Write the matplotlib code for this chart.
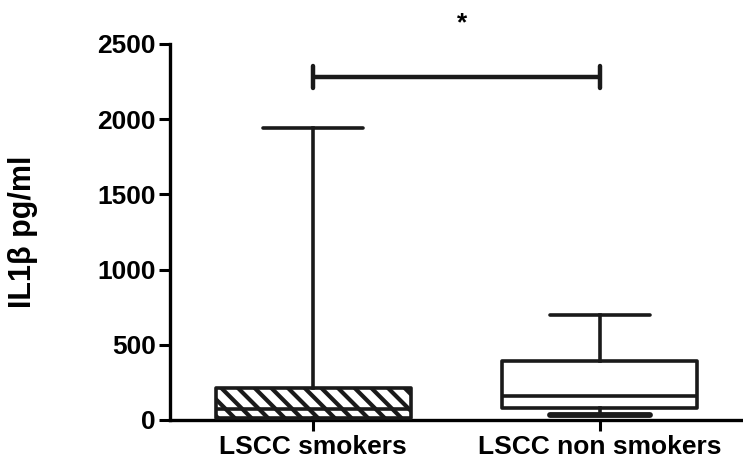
import matplotlib
matplotlib.use("Agg")
import matplotlib.pyplot as plt

categories = ["LSCC smokers", "LSCC non smokers"]
whislo = [0, 33]
q1 = [10, 82]
med = [73, 160]
q3 = [215, 392]
whishi = [1940, 695]
yticks = [0, 500, 1000, 1500, 2000, 2500]
sig_y = 2280
sig_label = "*"
ylabel = "IL1β pg/ml"

plt.rcParams['font.family'] = ['Liberation Sans', 'DejaVu Sans']
plt.rcParams['font.weight'] = 'bold'
plt.rcParams['hatch.linewidth'] = 3.0

fig = plt.figure(figsize=(7.43, 4.63), dpi=100)
ax = fig.add_axes([0.2288, 0.0929, 0.7712, 0.8121])

stats = []
for i, c in enumerate(categories):
    stats.append(dict(label=c, whislo=whislo[i], q1=q1[i], med=med[i],
                      q3=q3[i], whishi=whishi[i], fliers=[]))
positions = list(range(len(categories)))
lw = 2.6
res = ax.bxp(stats, positions=positions, widths=0.68, capwidths=0.35,
             patch_artist=True, showfliers=False,
             boxprops=dict(facecolor='white', edgecolor='#1a1a1a', linewidth=lw, joinstyle='round'),
             medianprops=dict(color='#1a1a1a', linewidth=lw),
             whiskerprops=dict(color='#1a1a1a', linewidth=lw),
             capprops=dict(color='#1a1a1a', linewidth=lw, solid_capstyle='round'))
res['boxes'][0].set_hatch('\\\\')
for b in res['boxes']:
    b.set_zorder(3)
for k in ('medians', 'whiskers', 'caps'):
    for l in res[k]:
        l.set_zorder(4)
res['caps'][2].set_linewidth(4.2)

ax.set_xlim(-0.5, 1.5)
ax.set_ylim(0, 2500)
ax.set_yticks(yticks)
ax.set_xticks(positions)
ax.set_xticklabels(categories, fontsize=19, fontweight='bold')
ax.tick_params(axis='y', labelsize=19, width=2.2, length=8, direction='out', pad=2)
ax.tick_params(axis='x', width=2.2, length=8, direction='out', pad=3)
for lab in ax.get_yticklabels():
    lab.set_fontweight('bold')
ax.spines['top'].set_visible(False)
ax.spines['right'].set_visible(False)
ax.spines['left'].set_linewidth(2.4)
ax.spines['bottom'].set_linewidth(2.4)
ax.set_ylabel(ylabel, fontsize=22, fontweight='bold')
ax.yaxis.set_label_coords(-0.23, 0.5)

# significance bar
ax.plot([positions[0], positions[1]], [sig_y, sig_y], color='#1a1a1a', lw=3.2, clip_on=False, solid_capstyle='butt')
for p in positions:
    ax.plot([p, p], [sig_y - 75, sig_y + 75], color='#1a1a1a', lw=3.2, clip_on=False, solid_capstyle='round')
ax.text((positions[0] + positions[1]) / 2 + 0.02, sig_y + 360, sig_label, ha='center', va='center',
        fontsize=19, fontweight='bold', clip_on=False)

fig.savefig("out.png", dpi=100)
